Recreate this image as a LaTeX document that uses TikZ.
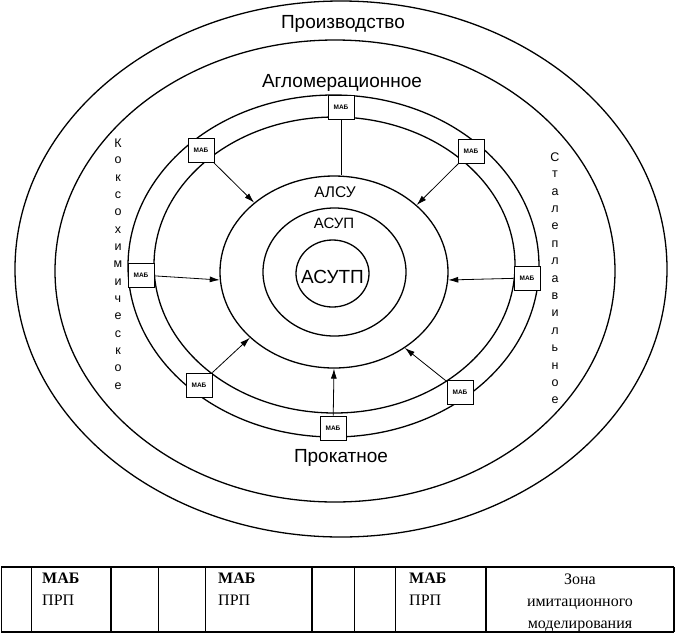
\documentclass[tikz,border=0pt]{standalone}
\usepackage{fontspec}
\setmainfont{Liberation Sans}
\newfontfamily\tnrfont{Liberation Serif}
\usetikzlibrary{arrows.meta,shapes.geometric}
\begin{document}
\begin{tikzpicture}[x=1pt,y=-1pt,
  ring/.style={draw,ellipse,line width=1.3pt,inner sep=0pt},
  mab/.style={draw,fill=white,line width=0.9pt,minimum width=26pt,minimum height=24pt,inner sep=0pt,font=\fontsize{6.5}{7}\selectfont\bfseries},
  arr/.style={line width=0.8pt,-{Latex[length=10pt,width=6pt]}},
  lbl/.style={font=\fontsize{19}{20}\selectfont,inner sep=0pt,anchor=base},
  vl/.style={font=\fontsize{12.5}{13}\selectfont,inner sep=0pt},
  cell/.style={font=\tnrfont\fontsize{16}{18}\selectfont,inner sep=0pt,anchor=base west},
  cellc/.style={font=\tnrfont\fontsize{16}{18}\selectfont,inner sep=0pt,anchor=base},
  thickline/.style={line width=1.2pt},
  thinline/.style={line width=0.6pt},
]
\useasboundingbox (0,0) rectangle (681,633);

% ellipses
\node[ring,minimum width=652pt,minimum height=536pt] (e1) at (341,269) {};
\node[ring,minimum width=560pt,minimum height=462pt] (e2) at (335,271) {};
\node[ring,minimum width=411pt,minimum height=342pt] (e3) at (333.5,266) {};
\node[ring,minimum width=361pt,minimum height=296pt] (e4) at (334.5,265) {};
\node[ring,minimum width=228pt,minimum height=192pt] (alsu) at (334,272) {};
\node[ring,minimum width=143pt,minimum height=128pt] (asup) at (334.5,272) {};
\node[ring,minimum width=73pt,minimum height=67pt] (asutp) at (332.5,273.5) {};

% labels
\node[lbl] (prod) at (343,28) {Производство};
\node[lbl] (aglo) at (342,87) {Агломерационное};
\node[lbl] (prok) at (341,462) {Прокатное};
\node[font=\fontsize{15.5}{16}\selectfont,inner sep=0pt,anchor=base] (alsuT) at (335,197) {АЛСУ};
\node[font=\fontsize{15}{16}\selectfont,inner sep=0pt,anchor=base] (asupT) at (334,228) {АСУП};
\node[font=\fontsize{19}{20}\selectfont,inner sep=0pt,anchor=base] (asutpT) at (332.5,283) {АСУТП};

% vertical words
\foreach \l [count=\i from 0] in {К,о,к,с,о,х,и,м,и,ч,е,с,к,о,е}
  \node[vl] (kl\i) at (118,{143+17.36*\i}) {\l};
\foreach \l [count=\i from 0] in {С,т,а,л,е,п,л,а,в,и,л,ь,н,о,е}
  \node[vl] (sl\i) at (555,{157+17.4*\i}) {\l};

% MAB boxes
\node[mab] (mT) at (341,107) {МАБ};
\node[mab] (mTL) at (201,150) {МАБ};
\node[mab] (mTR) at (471,151) {МАБ};
\node[mab] (mL) at (141,275) {МАБ};
\node[mab] (mR) at (527,278) {МАБ};
\node[mab] (mBL) at (199,385) {МАБ};
\node[mab] (mB) at (333,428) {МАБ};
\node[mab] (mBR) at (460,392) {МАБ};

% connectors
\draw[line width=0.8pt] (mT.south) -- (mT.south |- alsu.north);
\draw[arr] (mTL) -- (alsu.139.6);
\draw[arr] (mTR) -- (alsu.39.4);
\draw[arr] (mL) -- (alsu.184);
\draw[arr] (mR) -- (alsu.356.5);
\draw[arr] (mBL) -- (alsu.218.8);
\draw[arr] (mB) -- (alsu.270);
\draw[arr] (mBR) -- (alsu.313.8);

% table
\draw[thickline] (1,567) -- (674,567);
\draw[thickline] (1,632) -- (674,632);
\foreach \x in {111,312,486,674} \draw[thickline] (\x,567) -- (\x,632);
\foreach \x in {1,31,158,205,354,395} \draw[thinline] (\x,567) -- (\x,632);

\node[cell] (t1a) at (42,583) {\bfseries МАБ};
\node[cell] (t1b) at (42,605) {ПРП};
\node[cell] (t2a) at (218,583) {\bfseries МАБ};
\node[cell] (t2b) at (218,605) {ПРП};
\node[cell] (t3a) at (409,583) {\bfseries МАБ};
\node[cell] (t3b) at (409,605) {ПРП};
\node[cellc] (z1) at (580,584) {Зона};
\node[cellc] (z2) at (580,606) {имитационного};
\node[cellc] (z3) at (580,628) {моделирования};
\end{tikzpicture}
\end{document}
